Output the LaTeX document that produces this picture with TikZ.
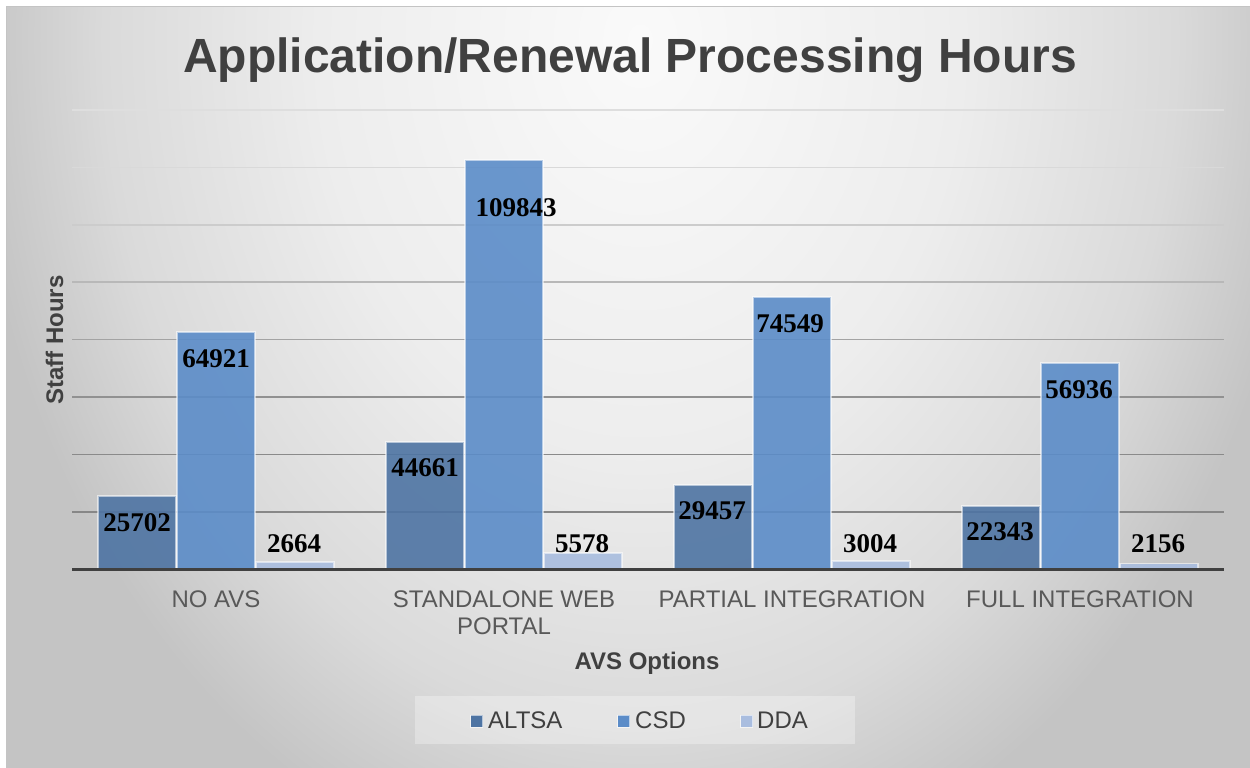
\documentclass[tikz,border=0pt]{standalone}
\usepackage{fontspec}
\setmainfont{Liberation Sans}
\newfontfamily\valuefont{Liberation Serif}

% palette
\definecolor{titlegray}{HTML}{404040}
\definecolor{catgray}{HTML}{595959}
\definecolor{axisgray}{HTML}{404040}
\definecolor{framegray}{HTML}{C4C4C4}
\definecolor{altsa}{HTML}{4E74A3}
\definecolor{csd}{HTML}{5B8CC8}
\definecolor{dda}{HTML}{A9BDDF}
\definecolor{bgA}{HTML}{FAFAFA}
\definecolor{bgB}{HTML}{EDEDED}
\definecolor{bgC}{HTML}{DADADA}
\definecolor{bgD}{HTML}{C4C4C4}

% soft elliptical backdrop, brightest under the title
% (25bp marks the edge of the shaded path's bounding box)
\pgfdeclareradialshading{chartbg}{\pgfpoint{0bp}{0bp}}{%
  color(0bp)=(bgA); color(12bp)=(bgB); color(20bp)=(bgC); color(25bp)=(bgD); color(50bp)=(bgD)}

\tikzset{
  bar/.style={draw=white, draw opacity=0.55, line width=1.1pt, fill opacity=0.9},
  altsabar/.style={bar, fill=altsa},
  csdbar/.style={bar, fill=csd},
  ddabar/.style={bar, fill=dda},
  vallabel/.style={inner sep=0pt, font=\valuefont\bfseries\fontsize{27}{30}\selectfont, text=black},
  catlabel/.style={inner sep=0pt, anchor=base, font=\fontsize{24}{28}\selectfont, text=catgray},
  axtitle/.style={inner sep=0pt, anchor=base, font=\bfseries\fontsize{24}{28}\selectfont, text=titlegray},
  legtext/.style={inner sep=0pt, anchor=base west, font=\fontsize{24}{28}\selectfont, text=titlegray},
  legkey/.style={draw=white, draw opacity=0.6, line width=0.8pt, minimum size=12pt, inner sep=0pt},
}

\begin{document}
\begin{tikzpicture}[x=1pt,y=-1pt]
\useasboundingbox (0,0) rectangle (1250,768);
\fill[white] (0,0) rectangle (1250,768);

% chart backdrop
\begin{scope}
  \clip (6,7) rectangle (1250,768);
  \fill[bgD] (6,7) rectangle (1250,768);
  \shade[shading=chartbg] (-30,-820) rectangle (1310,900);
\end{scope}
\draw[framegray, line width=1pt] (6,768) -- (6,7) -- (1250,7);

% title
\node[inner sep=0pt, anchor=base, font=\bfseries\fontsize{48}{56}\selectfont, text=titlegray]
  (title) at (630,73) {Application/Renewal Processing Hours};

% horizontal gridlines
\foreach \yy/\gl in {110/13, 167.4/15, 224.8/20, 282.2/28, 339.6/36, 397/43, 454.4/46, 511.8/47}
  \draw[black!\gl, line width=1.5pt] (72,\yy) -- (1224,\yy);

% bars: group start, ALTSA top, CSD top, DDA top
\foreach \s/\ta/\tc/\td in {98/496/332/562, 386/442/160/553, 674/485/297/561, 962/506/363/563.5}{
  \path[altsabar] (\s,569) rectangle (\s+78,\ta);
  \path[csdbar]   (\s+79,569) rectangle (\s+157,\tc);
  \path[ddabar]   (\s+158,569) rectangle (\s+236,\td);
}

% category axis
\draw[axisgray, line width=3pt] (72,569.5) -- (1224,569.5);

% data labels
\node[vallabel] (v1a) at (137,523) {25702};
\node[vallabel] (v1c) at (216,359) {64921};
\node[vallabel] (v1d) at (294,544) {2664};
\node[vallabel] (v2a) at (425,468) {44661};
\node[vallabel] (v2c) at (516,208) {109843};
\node[vallabel] (v2d) at (582,544) {5578};
\node[vallabel] (v3a) at (712,511) {29457};
\node[vallabel] (v3c) at (790,324) {74549};
\node[vallabel] (v3d) at (870,544) {3004};
\node[vallabel] (v4a) at (1000,532) {22343};
\node[vallabel] (v4c) at (1079,390) {56936};
\node[vallabel] (v4d) at (1158,544) {2156};

% category names
\node[catlabel] (c1) at (216,607) {NO AVS};
\node[catlabel] (c2a) at (504,607) {STANDALONE WEB};
\node[catlabel] (c2b) at (504,634) {PORTAL};
\node[catlabel] (c3) at (792,607) {PARTIAL INTEGRATION};
\node[catlabel] (c4) at (1080,607) {FULL INTEGRATION};

% axis titles
\node[axtitle] (xtitle) at (647,669) {AVS Options};
\node[axtitle, rotate=90] (ytitle) at (63,340) {Staff Hours};

% legend
\path[fill=white, fill opacity=0.3] (415,696) rectangle (855,744);
\node[legkey, fill=altsa] (kA) at (476.5,721) {};
\node[legtext] (lA) at (488,728) {ALTSA};
\node[legkey, fill=csd] (kC) at (623.5,721) {};
\node[legtext] (lC) at (635,728) {CSD};
\node[legkey, fill=dda] (kD) at (746.5,721) {};
\node[legtext] (lD) at (757,728) {DDA};
\end{tikzpicture}
\end{document}
